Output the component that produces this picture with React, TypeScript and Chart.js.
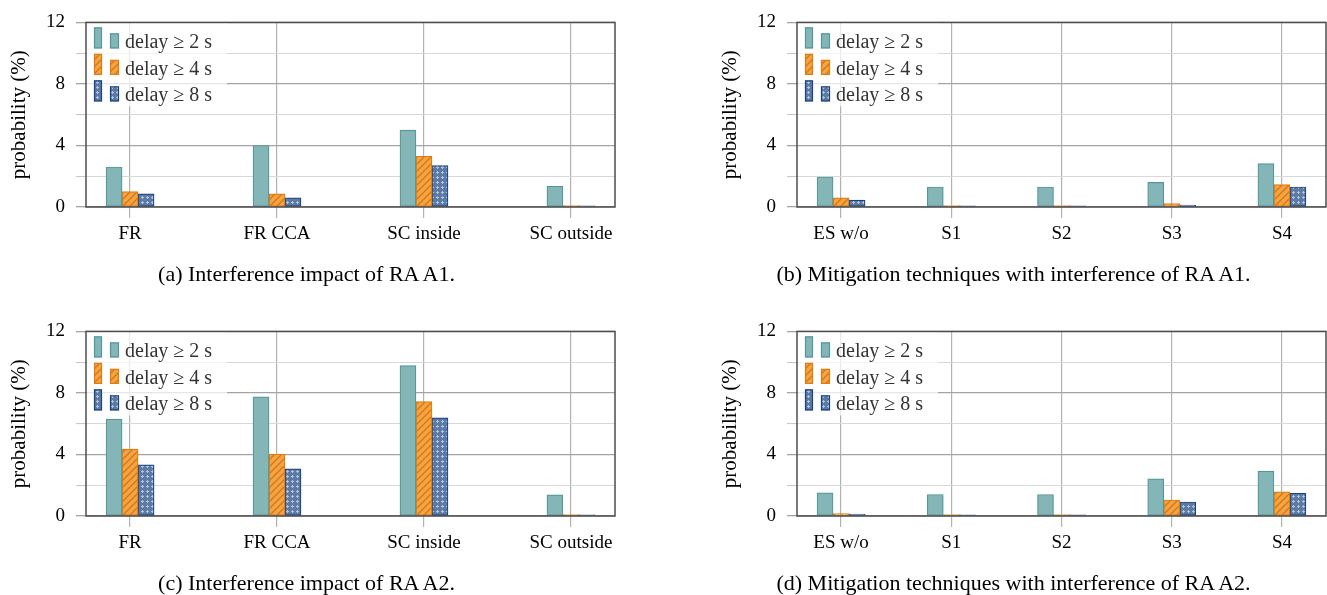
import React, { useEffect, useRef } from "react";
import { Chart, registerables } from "chart.js";

Chart.register(...registerables);

// ---------- data ----------
const seriesLabels = ["delay \u2265 2 s", "delay \u2265 4 s", "delay \u2265 8 s"];
const interferenceCategories = ["FR", "FR CCA", "SC inside", "SC outside"];
const mitigationCategories = ["ES w/o", "S1", "S2", "S3", "S4"];
const yMajorTicks = [0, 4, 8, 12];
const yMinorTicks = [2, 6, 10];
const yAxisTitle = "probability (%)";

// (a) interference impact of RA A1
const a1Delay2 = [2.6, 4.0, 5.0, 1.35];
const a1Delay4 = [1.0, 0.85, 3.3, 0.1];
const a1Delay8 = [0.85, 0.6, 2.7, 0.08];

// (b) mitigation techniques, RA A1
const mitA1Delay2 = [1.95, 1.3, 1.3, 1.6, 2.82];
const mitA1Delay4 = [0.6, 0.1, 0.1, 0.22, 1.46];
const mitA1Delay8 = [0.45, 0.08, 0.08, 0.13, 1.3];

// (c) interference impact of RA A2
const a2Delay2 = [6.3, 7.75, 9.78, 1.37];
const a2Delay4 = [4.35, 4.02, 7.44, 0.1];
const a2Delay8 = [3.32, 3.07, 6.38, 0.08];

// (d) mitigation techniques, RA A2
const mitA2Delay2 = [1.5, 1.4, 1.4, 2.41, 2.92];
const mitA2Delay4 = [0.16, 0.1, 0.1, 1.04, 1.57];
const mitA2Delay8 = [0.13, 0.08, 0.08, 0.91, 1.48];

const captions = [
  "(a) Interference impact of RA A1.",
  "(b) Mitigation techniques with interference of RA A1.",
  "(c) Interference impact of RA A2.",
  "(d) Mitigation techniques with interference of RA A2.",
];

// ---------- styles ----------
const FONT = "'Liberation Serif', 'Times New Roman', serif";
const TEAL_FILL = "rgb(132,182,184)";
const TEAL_BORDER = "rgb(84,150,152)";
const ORANGE_FILL = "rgb(244,164,66)";
const ORANGE_LINE = "rgb(214,120,24)";
const ORANGE_BORDER = "rgb(224,124,16)";
const BLUE_FILL = "rgb(92,122,164)";
const BLUE_DOT = "rgb(178,195,218)";
const BLUE_BORDER = "rgb(24,68,128)";

function makeHatch(): CanvasPattern | string {
  const s = 7;
  const c = document.createElement("canvas");
  c.width = s;
  c.height = s;
  const g = c.getContext("2d");
  if (!g) return ORANGE_FILL;
  g.fillStyle = ORANGE_FILL;
  g.fillRect(0, 0, s, s);
  g.strokeStyle = ORANGE_LINE;
  g.lineWidth = 1.4;
  g.beginPath();
  g.moveTo(-1, s + 1);
  g.lineTo(s + 1, -1);
  g.moveTo(-2, 2);
  g.lineTo(2, -2);
  g.moveTo(s - 2, s + 2);
  g.lineTo(s + 2, s - 2);
  g.stroke();
  const p = g.createPattern(c, "repeat");
  return p || ORANGE_FILL;
}

function makeDots(): CanvasPattern | string {
  const s = 5;
  const c = document.createElement("canvas");
  c.width = s;
  c.height = s;
  const g = c.getContext("2d");
  if (!g) return BLUE_FILL;
  g.fillStyle = BLUE_FILL;
  g.fillRect(0, 0, s, s);
  g.fillStyle = BLUE_DOT;
  g.fillRect(2, 1, 1, 3);
  g.fillRect(1, 2, 3, 1);
  const p = g.createPattern(c, "repeat");
  return p || BLUE_FILL;
}

type PanelProps = {
  left: number;
  top: number;
  width: number;
  padRight: number;
  categories: string[];
  series: number[][];
};

const CANVAS_H = 262;
const PLOT_TOP = 18;
const PLOT_H = 189;
const Y_AXIS_W = 86;

function BarPanel({ left, top, width, padRight, categories, series }: PanelProps) {
  const ref = useRef<HTMLCanvasElement>(null);

  useEffect(() => {
    const canvas = ref.current;
    if (!canvas) return;
    const fills = [TEAL_FILL, makeHatch(), makeDots()];
    const borders = [TEAL_BORDER, ORANGE_BORDER, BLUE_BORDER];
    const edge = 0.1 * (categories.length - 1);
    const yAll = [...yMajorTicks, ...yMinorTicks].sort((a, b) => a - b);
    const isMajor = (v: number) => yMajorTicks.includes(v);

    const legendPlugin = {
      id: "insideLegend",
      afterDatasetsDraw(chart: any) {
        const { ctx, chartArea } = chart;
        const L = chartArea.left;
        const T = chartArea.top;
        ctx.save();
        ctx.fillStyle = "rgba(255,255,255,0.72)";
        ctx.fillRect(L + 1, T + 1, 140, 83);
        chart.data.datasets.forEach((ds: any, k: number) => {
          const base = T + 26 + k * 26.5;
          const icons = [
            [L + 8, base - 21, 8, 21],
            [L + 24, base - 15, 9, 15],
          ];
          icons.forEach(([x, y, w, h]) => {
            ctx.fillStyle = ds.backgroundColor;
            ctx.fillRect(x, y, w, h);
            ctx.strokeStyle = ds.borderColor;
            ctx.lineWidth = 1.2;
            ctx.strokeRect(x + 0.5, y + 0.5, w - 1, h - 1);
          });
          ctx.fillStyle = "#333";
          ctx.font = `20px ${FONT}`;
          ctx.textAlign = "left";
          ctx.textBaseline = "alphabetic";
          ctx.fillText(ds.label, L + 39, base);
        });
        ctx.restore();
      },
    };

    const framePlugin = {
      id: "frame",
      afterDraw(chart: any) {
        const { ctx, chartArea } = chart;
        ctx.save();
        ctx.strokeStyle = "#4d4d4d";
        ctx.lineWidth = 1.5;
        ctx.strokeRect(
          chartArea.left,
          chartArea.top,
          chartArea.right - chartArea.left,
          chartArea.bottom - chartArea.top
        );
        ctx.restore();
      },
    };

    const chart = new Chart(canvas, {
      type: "bar",
      data: {
        datasets: series.map((vals, k) => ({
          label: seriesLabels[k],
          data: vals.map((v, i) => ({ x: i, y: v })),
          backgroundColor: fills[k] as any,
          borderColor: borders[k],
          borderWidth: 1.2,
          borderSkipped: false,
          barThickness: 16,
        })),
      },
      options: {
        animation: false,
        responsive: false,
        maintainAspectRatio: false,
        events: [],
        layout: { padding: { top: PLOT_TOP, right: padRight, left: 0, bottom: 0 } },
        plugins: {
          legend: { display: false },
          tooltip: { enabled: false },
        },
        scales: {
          x: {
            type: "linear",
            min: -edge,
            max: categories.length - 1 + edge,
            offset: false,
            afterBuildTicks: (s: any) => {
              s.ticks = categories.map((_, i) => ({ value: i }));
            },
            afterFit: (s: any) => {
              s.height = CANVAS_H - PLOT_TOP - PLOT_H;
            },
            ticks: {
              callback: (v: any) => categories[Math.round(Number(v))] ?? "",
              font: { family: FONT, size: 19 },
              color: "#000",
              padding: 5,
              maxRotation: 0,
              autoSkip: false,
            },
            grid: {
              color: "#b2b2b2",
              lineWidth: 1.2,
              tickLength: 11,
              offset: false,
              tickColor: "#b2b2b2",
            },
            border: { display: false },
          },
          y: {
            type: "linear",
            min: 0,
            max: 12,
            afterBuildTicks: (s: any) => {
              s.ticks = yAll.map((v) => ({ value: v }));
            },
            afterFit: (s: any) => {
              s.width = Y_AXIS_W;
            },
            ticks: {
              callback: (v: any) => (isMajor(Number(v)) ? String(v) : ""),
              font: { family: FONT, size: 19 },
              color: "#000",
              padding: 11,
            },
            grid: {
              color: (c: any) => (isMajor(c.tick?.value) ? "#a4a4a4" : "#d8d8d8"),
              tickColor: (c: any) => (isMajor(c.tick?.value) ? "#a4a4a4" : "#c8c8c8"),
              lineWidth: (c: any) => (isMajor(c.tick?.value) ? 1.3 : 1.1),
              tickLength: 10,
            },
            border: { display: false },
            title: {
              display: true,
              text: yAxisTitle,
              font: { family: FONT, size: 21 },
              color: "#000",
              padding: { top: 7, bottom: 0 },
            },
          },
        },
      } as any,
      plugins: [legendPlugin, framePlugin],
    });
    return () => chart.destroy();
  }, []);

  return (
    <canvas
      ref={ref}
      width={width}
      height={CANVAS_H}
      style={{ position: "absolute", left, top, width, height: CANVAS_H }}
    />
  );
}

function Caption({ cx, cy, text }: { cx: number; cy: number; text: string }) {
  return (
    <div
      style={{
        position: "absolute",
        left: cx - 400,
        top: cy - 13,
        width: 800,
        lineHeight: "26px",
        textAlign: "center",
        fontFamily: FONT,
        fontSize: 22,
        color: "#000",
        whiteSpace: "nowrap",
      }}
    >
      {text}
    </div>
  );
}

export default function App() {
  return (
    <div
      style={{
        position: "fixed",
        left: 0,
        top: 0,
        width: 1327,
        height: 595,
        overflow: "hidden",
        background: "#fff",
      }}
    >
      <BarPanel left={0} top={0} width={640} padRight={25} categories={interferenceCategories} series={[a1Delay2, a1Delay4, a1Delay8]} />
      <BarPanel left={711} top={0} width={616} padRight={1} categories={mitigationCategories} series={[mitA1Delay2, mitA1Delay4, mitA1Delay8]} />
      <BarPanel left={0} top={309} width={640} padRight={25} categories={interferenceCategories} series={[a2Delay2, a2Delay4, a2Delay8]} />
      <BarPanel left={711} top={309} width={616} padRight={1} categories={mitigationCategories} series={[mitA2Delay2, mitA2Delay4, mitA2Delay8]} />
      <Caption cx={306.5} cy={274} text={captions[0]} />
      <Caption cx={1013.5} cy={274} text={captions[1]} />
      <Caption cx={306.5} cy={583} text={captions[2]} />
      <Caption cx={1013.5} cy={583} text={captions[3]} />
    </div>
  );
}
